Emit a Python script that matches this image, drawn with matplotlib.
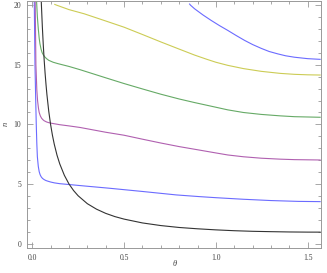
import numpy as np
import matplotlib
matplotlib.use("Agg")
import matplotlib.pyplot as plt
from matplotlib.ticker import MultipleLocator

# ---- data ----
black_t = [0.047, 0.05, 0.055, 0.06, 0.065, 0.07, 0.075, 0.08, 0.09, 0.1, 0.11, 0.12, 0.135, 0.15,
           0.175, 0.2, 0.225, 0.25, 0.3, 0.35, 0.4, 0.45, 0.5, 0.6, 0.7, 0.8, 0.9, 1.0, 1.1, 1.2,
           1.3, 1.4, 1.5, 1.5708]
black_v = [21.3, 20.0, 18.2, 16.7, 15.4, 14.3, 13.35, 12.5, 11.1, 10.0, 9.1, 8.35, 7.43, 6.7,
           5.75, 5.03, 4.48, 4.04, 3.38, 2.92, 2.57, 2.3, 2.09, 1.77, 1.55, 1.39, 1.28, 1.19, 1.12, 1.07,
           1.04, 1.015, 1.002, 1.0]

blue1_t = [0.011, 0.015, 0.019, 0.022, 0.025, 0.028, 0.033, 0.038, 0.043, 0.049, 0.056, 0.065,
           0.075, 0.087, 0.1, 0.12, 0.15, 0.2, 0.283, 0.42, 0.6, 0.785, 0.91, 1.0, 1.147, 1.3,
           1.45, 1.5708]
blue1_v = [20.5, 15.0, 12.0, 10.0, 8.4, 7.3, 6.5, 6.05, 5.8, 5.62, 5.49, 5.39,
           5.31, 5.25, 5.19, 5.12, 5.05, 4.98, 4.86, 4.67, 4.4, 4.11, 3.97, 3.88, 3.75, 3.64,
           3.57, 3.55]

purple_t = [0.016, 0.020, 0.025, 0.029, 0.034, 0.038, 0.044, 0.051, 0.058, 0.065, 0.078, 0.09,
            0.105, 0.15, 0.2, 0.26, 0.4, 0.5, 0.6, 0.7, 0.8, 0.91, 1.0, 1.065, 1.15, 1.247, 1.35,
            1.428, 1.5708]
purple_v = [20.5, 15.0, 12.9, 12.0, 11.35, 11.0, 10.72, 10.52, 10.4, 10.31, 10.21, 10.15,
            10.1, 9.98, 9.88, 9.75, 9.35, 9.1, 8.77, 8.45, 8.15, 7.86, 7.62, 7.45, 7.3, 7.18, 7.1,
            7.06, 7.03]

green_t = [0.023, 0.028, 0.033, 0.038, 0.042, 0.048, 0.054, 0.061, 0.069, 0.078, 0.09, 0.114,
           0.141, 0.2, 0.26, 0.4, 0.5, 0.6, 0.7, 0.8, 0.884, 1.0, 1.065, 1.15, 1.247, 1.35, 1.428,
           1.5708]
green_v = [20.5, 19.0, 18.0, 17.2, 16.75, 16.3, 16.0, 15.8, 15.64, 15.5, 15.36, 15.2,
           15.08, 14.85, 14.58, 13.9, 13.42, 12.97, 12.53, 12.13, 11.83, 11.44, 11.22, 11.0, 10.84,
           10.72, 10.65, 10.6]

yellow_t = [0.12, 0.133, 0.2, 0.283, 0.4, 0.5, 0.6, 0.7, 0.8, 0.884, 0.95, 1.0, 1.065, 1.15,
            1.247, 1.35, 1.428, 1.5, 1.5708]
yellow_v = [20.05, 19.97, 19.6, 19.25, 18.65, 18.13, 17.52, 16.9, 16.3, 15.8, 15.45, 15.2, 14.94,
            14.67, 14.44, 14.27, 14.19, 14.15, 14.13]

blue2_t = [0.855, 0.862, 0.884, 0.93, 0.975, 1.02, 1.065, 1.11, 1.156, 1.2, 1.247, 1.29, 1.337,
           1.38, 1.428, 1.5, 1.5708]
blue2_v = [20.1, 19.97, 19.67, 19.15, 18.69, 18.26, 17.86, 17.44, 17.03, 16.68, 16.36, 16.1,
           15.9, 15.74, 15.62, 15.5, 15.44]

series = [
    (blue1_t, blue1_v, "#6b6bff"),
    (purple_t, purple_v, "#b060b0"),
    (green_t, green_v, "#66aa66"),
    (yellow_t, yellow_v, "#cccc55"),
    (blue2_t, blue2_v, "#6b6bff"),
    (black_t, black_v, "#333333"),
]

x_ticks = [0.0, 0.5, 1.0, 1.5]
x_tick_labels = ["0.0", "0.5", "1.0", "1.5"]
y_ticks = [0, 5, 10, 15, 20]
y_tick_labels = ["0", "5", "10", "15", "20"]

# ---- figure ----
fig = plt.figure(figsize=(3.27, 2.73), dpi=100)
ax = fig.add_axes([0.0817, 0.0905, 0.899, 0.905])

for t, v, c in series:
    ax.plot(t, v, color=c, lw=0.8, solid_capstyle="butt", solid_joinstyle="round")

ax.set_xlim(-0.03, 1.5708)
ax.set_ylim(-0.35, 20.3)

serif = "Liberation Serif"
ax.set_xticks(x_ticks)
ax.set_xticklabels(x_tick_labels, fontfamily=serif, fontsize=5.5, color="#444444")
ax.set_yticks(y_ticks)
ax.set_yticklabels(y_tick_labels, fontfamily=serif, fontsize=5.5, color="#444444")
ax.xaxis.set_minor_locator(MultipleLocator(0.1))
ax.yaxis.set_minor_locator(MultipleLocator(1))
ax.tick_params(which="both", direction="in", top=True, right=True, color="#999999", width=0.6)
ax.tick_params(which="major", length=4, pad=4)
ax.tick_params(which="minor", length=2)
for s in ax.spines.values():
    s.set_color("#999999")
    s.set_linewidth(0.7)

fig.text(0.535, 0.033, "θ", fontfamily=serif, fontstyle="italic", fontsize=6, color="#444444",
         ha="center", va="center")
fig.text(0.018, 0.545, "n", fontfamily=serif, fontstyle="italic", fontsize=6, color="#444444",
         ha="center", va="center", rotation=90)

fig.savefig("out.png", dpi=100)
